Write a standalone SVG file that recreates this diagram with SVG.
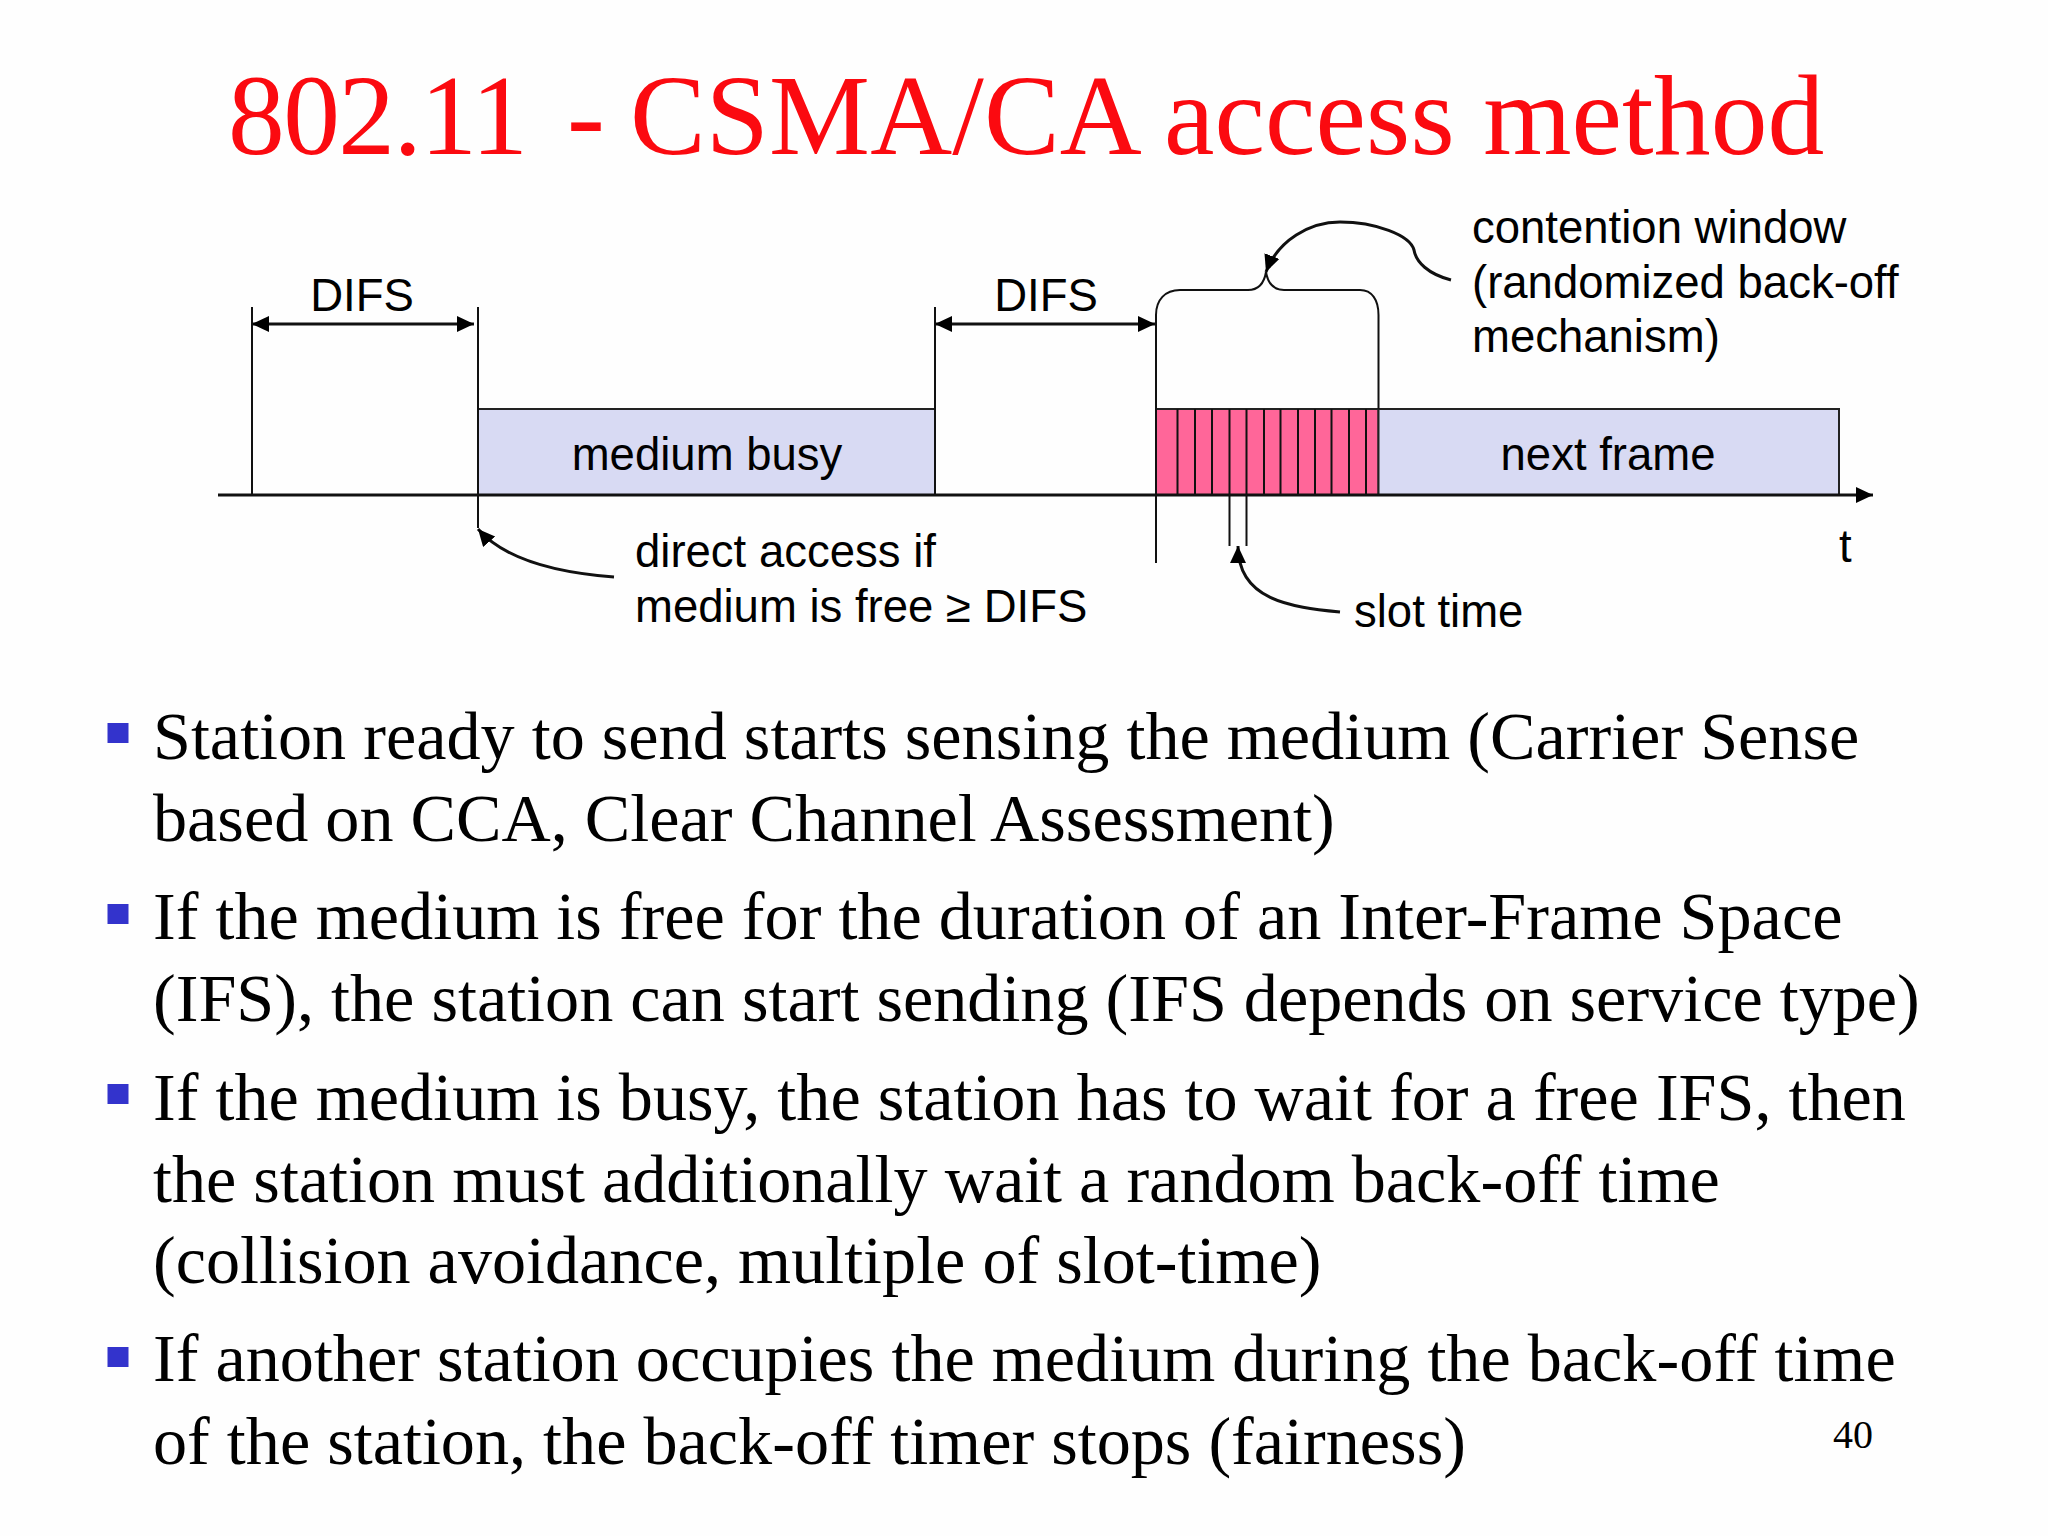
<svg xmlns="http://www.w3.org/2000/svg" width="2048" height="1536" viewBox="0 0 2048 1536">
<style>
.s{font-family:"Liberation Sans",Arial,sans-serif;font-size:45.500px;fill:#000}
.m{text-anchor:middle}
.b{font-family:"Liberation Serif","Times New Roman",serif;font-size:68.200px;fill:#000}
.l{stroke:#111;stroke-width:2;fill:none}
.a{stroke:#111;stroke-width:3;fill:none}
.bu{fill:#3333cc}
</style>
<defs>
<marker id="h" markerUnits="userSpaceOnUse" markerWidth="18" markerHeight="18" refX="17" refY="8" orient="auto-start-reverse"><path d="M0 0L17 8L0 16Z" fill="#000"/></marker>
</defs>
<rect width="2048" height="1536" fill="#fefefe"/>
<text id="title" y="154" font-family="Liberation Serif, serif" font-size="113.500" fill="#fb0a10"><tspan x="228" letter-spacing="-1.600">802.11</tspan><tspan x="567">-</tspan><tspan x="630" letter-spacing="0.130">CSMA/CA access method</tspan></text>
<g id="medium-busy"><rect x="478" y="409" width="457" height="86" fill="#d8daf3" stroke="#222" stroke-width="2"/><text class="s m" x="707" y="470">medium busy</text></g>
<g id="backoff">
<rect x="1156" y="409" width="222.500" height="86" fill="#ff6699" stroke="#222" stroke-width="2"/>
<path class="l" d="M1177.500 409V495M1195 409V495M1212 409V495M1229.500 409V546M1246.500 409V546M1264 409V495M1280.500 409V495M1298 409V495M1315 409V495M1331.500 409V495M1349 409V495M1366 409V495"/>
</g>
<g id="next-frame"><rect x="1378.500" y="409" width="460.500" height="86" fill="#d8daf3" stroke="#222" stroke-width="2"/><text class="s m" x="1608" y="470">next frame</text></g>
<g id="connectors">
<path class="a" d="M218 495H1873" marker-end="url(#h)"/>
<path class="l" d="M252 307V495M478 307V528M935 307V495M1156 563V315C1156 300 1165 290 1180 290H1248C1258 290 1264 284 1266 272C1268 284 1274 290 1284 290H1360C1372 290 1378.500 300 1378.500 315V409"/>
<path class="a" d="M252 324H474" marker-start="url(#h)" marker-end="url(#h)"/>
<path class="a" d="M935 324H1155" marker-start="url(#h)" marker-end="url(#h)"/>
<path class="a" d="M614 577C560 573 505 560 478 529" marker-end="url(#h)"/>
<path class="a" d="M1451 280C1428 274 1416 262 1414 250C1410 235 1375 222 1340 222C1310 222 1278 240 1266 272" marker-end="url(#h)"/>
<path class="a" d="M1340 612C1290 607 1238 600 1238 546" marker-end="url(#h)"/>
</g>
<g id="labels">
<text class="s m" x="362" y="311">DIFS</text>
<text class="s m" x="1046" y="311">DIFS</text>
<text class="s" x="635" y="567">direct access if</text>
<text class="s" x="635" y="622">medium is free ≥ DIFS</text>
<text class="s" x="1472" y="243">contention window</text>
<text class="s" x="1472" y="298">(randomized back-off</text>
<text class="s" x="1472" y="352">mechanism)</text>
<text class="s" x="1354" y="627">slot time</text>
<text class="s" x="1839" y="562">t</text>
</g>
<g id="body">
<rect class="bu" x="107.500" y="723" width="21" height="20"/>
<rect class="bu" x="107.500" y="904" width="21" height="20"/>
<rect class="bu" x="107.500" y="1084" width="21" height="20"/>
<rect class="bu" x="107.500" y="1347" width="21" height="20"/>
<text class="b" x="153" y="759">Station ready to send starts sensing the medium (Carrier Sense</text>
<text class="b" x="153" y="841">based on CCA, Clear Channel Assessment)</text>
<text class="b" x="153" y="939">If the medium is free for the duration of an Inter-Frame Space</text>
<text class="b" x="153" y="1021">(IFS), the station can start sending (IFS depends on service type)</text>
<text class="b" x="153" y="1120">If the medium is busy, the station has to wait for a free IFS, then</text>
<text class="b" x="153" y="1202">the station must additionally wait a random back-off time</text>
<text class="b" x="153" y="1283">(collision avoidance, multiple of slot-time)</text>
<text class="b" x="153" y="1381">If another station occupies the medium during the back-off time</text>
<text class="b" x="153" y="1464">of the station, the back-off timer stops (fairness)</text>
<text x="1833" y="1448" font-family="Liberation Serif, serif" font-size="40" fill="#000">40</text>
</g>
</svg>
